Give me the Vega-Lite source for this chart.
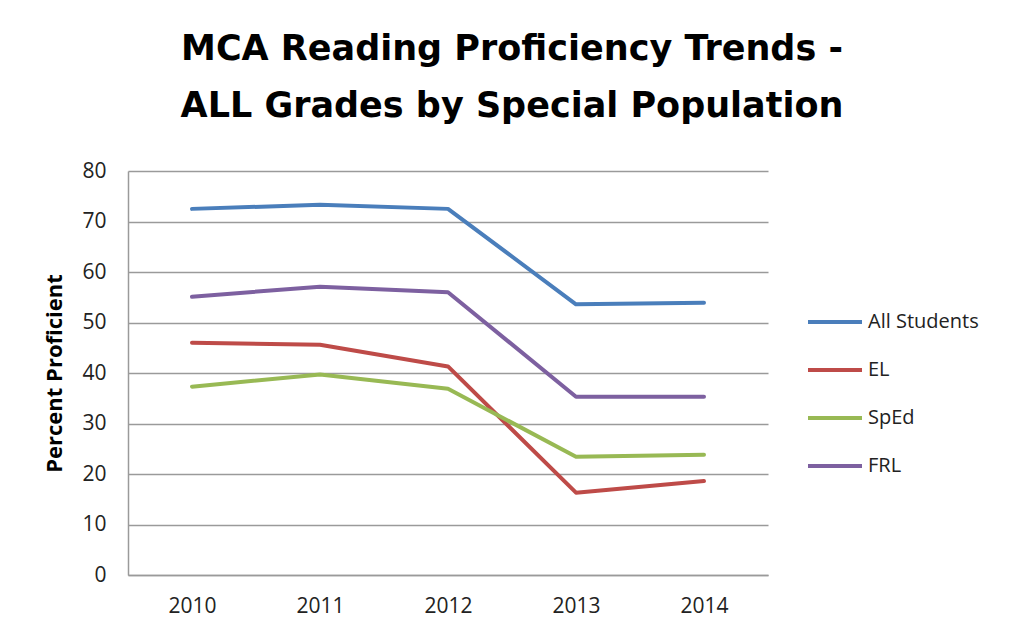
{
  "$schema": "https://vega.github.io/schema/vega-lite/v6.json",
  "width": 640,
  "height": 404,
  "autosize": {"type": "none"},
  "padding": {"left": 128, "top": 171, "right": 255, "bottom": 67},
  "background": "white",
  "title": {
    "text": ["MCA Reading Proficiency Trends -", "ALL Grades by Special Population"],
    "font": "DejaVu Sans",
    "fontSize": 35,
    "fontWeight": "bold",
    "color": "#000000",
    "anchor": "middle",
    "dx": 64,
    "offset": 36,
    "lineHeight": 57
  },
  "data": {
    "values": [
      {"year": "2010", "group": "All Students", "value": 72.5},
      {"year": "2011", "group": "All Students", "value": 73.3},
      {"year": "2012", "group": "All Students", "value": 72.5},
      {"year": "2013", "group": "All Students", "value": 53.6},
      {"year": "2014", "group": "All Students", "value": 53.9},
      {"year": "2010", "group": "EL", "value": 46.0},
      {"year": "2011", "group": "EL", "value": 45.6},
      {"year": "2012", "group": "EL", "value": 41.3},
      {"year": "2013", "group": "EL", "value": 16.3},
      {"year": "2014", "group": "EL", "value": 18.6},
      {"year": "2010", "group": "SpEd", "value": 37.3},
      {"year": "2011", "group": "SpEd", "value": 39.7},
      {"year": "2012", "group": "SpEd", "value": 36.9},
      {"year": "2013", "group": "SpEd", "value": 23.4},
      {"year": "2014", "group": "SpEd", "value": 23.8},
      {"year": "2010", "group": "FRL", "value": 55.1},
      {"year": "2011", "group": "FRL", "value": 57.1},
      {"year": "2012", "group": "FRL", "value": 56.0},
      {"year": "2013", "group": "FRL", "value": 35.3},
      {"year": "2014", "group": "FRL", "value": 35.3}
    ]
  },
  "mark": {"type": "line", "strokeWidth": 4, "strokeCap": "round", "strokeJoin": "round"},
  "encoding": {
    "x": {
      "field": "year",
      "type": "ordinal",
      "scale": {"type": "point", "padding": 0.5},
      "axis": {
        "title": null,
        "labelAngle": 0,
        "labelFont": "Open Sans",
        "labelFontSize": 21,
        "labelColor": "#222222",
        "labelPadding": 20,
        "ticks": false,
        "domainColor": "#9a9a9a",
        "domainWidth": 1.5,
        "grid": false
      }
    },
    "y": {
      "field": "value",
      "type": "quantitative",
      "scale": {"domain": [0, 80], "nice": false},
      "axis": {
        "title": "Percent Proficient",
        "titleFont": "Open Sans",
        "titleFontSize": 22,
        "titleFontWeight": "bold",
        "titleColor": "#000000",
        "titlePadding": 15,
        "values": [0, 10, 20, 30, 40, 50, 60, 70, 80],
        "labelFont": "Open Sans",
        "labelFontSize": 21,
        "labelColor": "#222222",
        "labelPadding": 22,
        "ticks": false,
        "domainColor": "#9a9a9a",
        "domainWidth": 1.5,
        "grid": true,
        "gridColor": "#9a9a9a",
        "gridWidth": 1.5
      }
    },
    "color": {
      "field": "group",
      "type": "nominal",
      "sort": ["All Students", "EL", "SpEd", "FRL"],
      "scale": {
        "domain": ["All Students", "EL", "SpEd", "FRL"],
        "range": ["#4a7ebb", "#be4b48", "#98b954", "#7d60a0"]
      },
      "legend": {
        "title": null,
        "orient": "none",
        "legendX": 678,
        "legendY": 122,
        "symbolType": "stroke",
        "symbolSize": 2916,
        "symbolStrokeWidth": 4,
        "labelFont": "Open Sans",
        "labelFontSize": 20,
        "labelColor": "#222222",
        "labelOffset": 4,
        "rowPadding": 9
      }
    }
  },
  "config": {
    "view": {"stroke": null}
  }
}
